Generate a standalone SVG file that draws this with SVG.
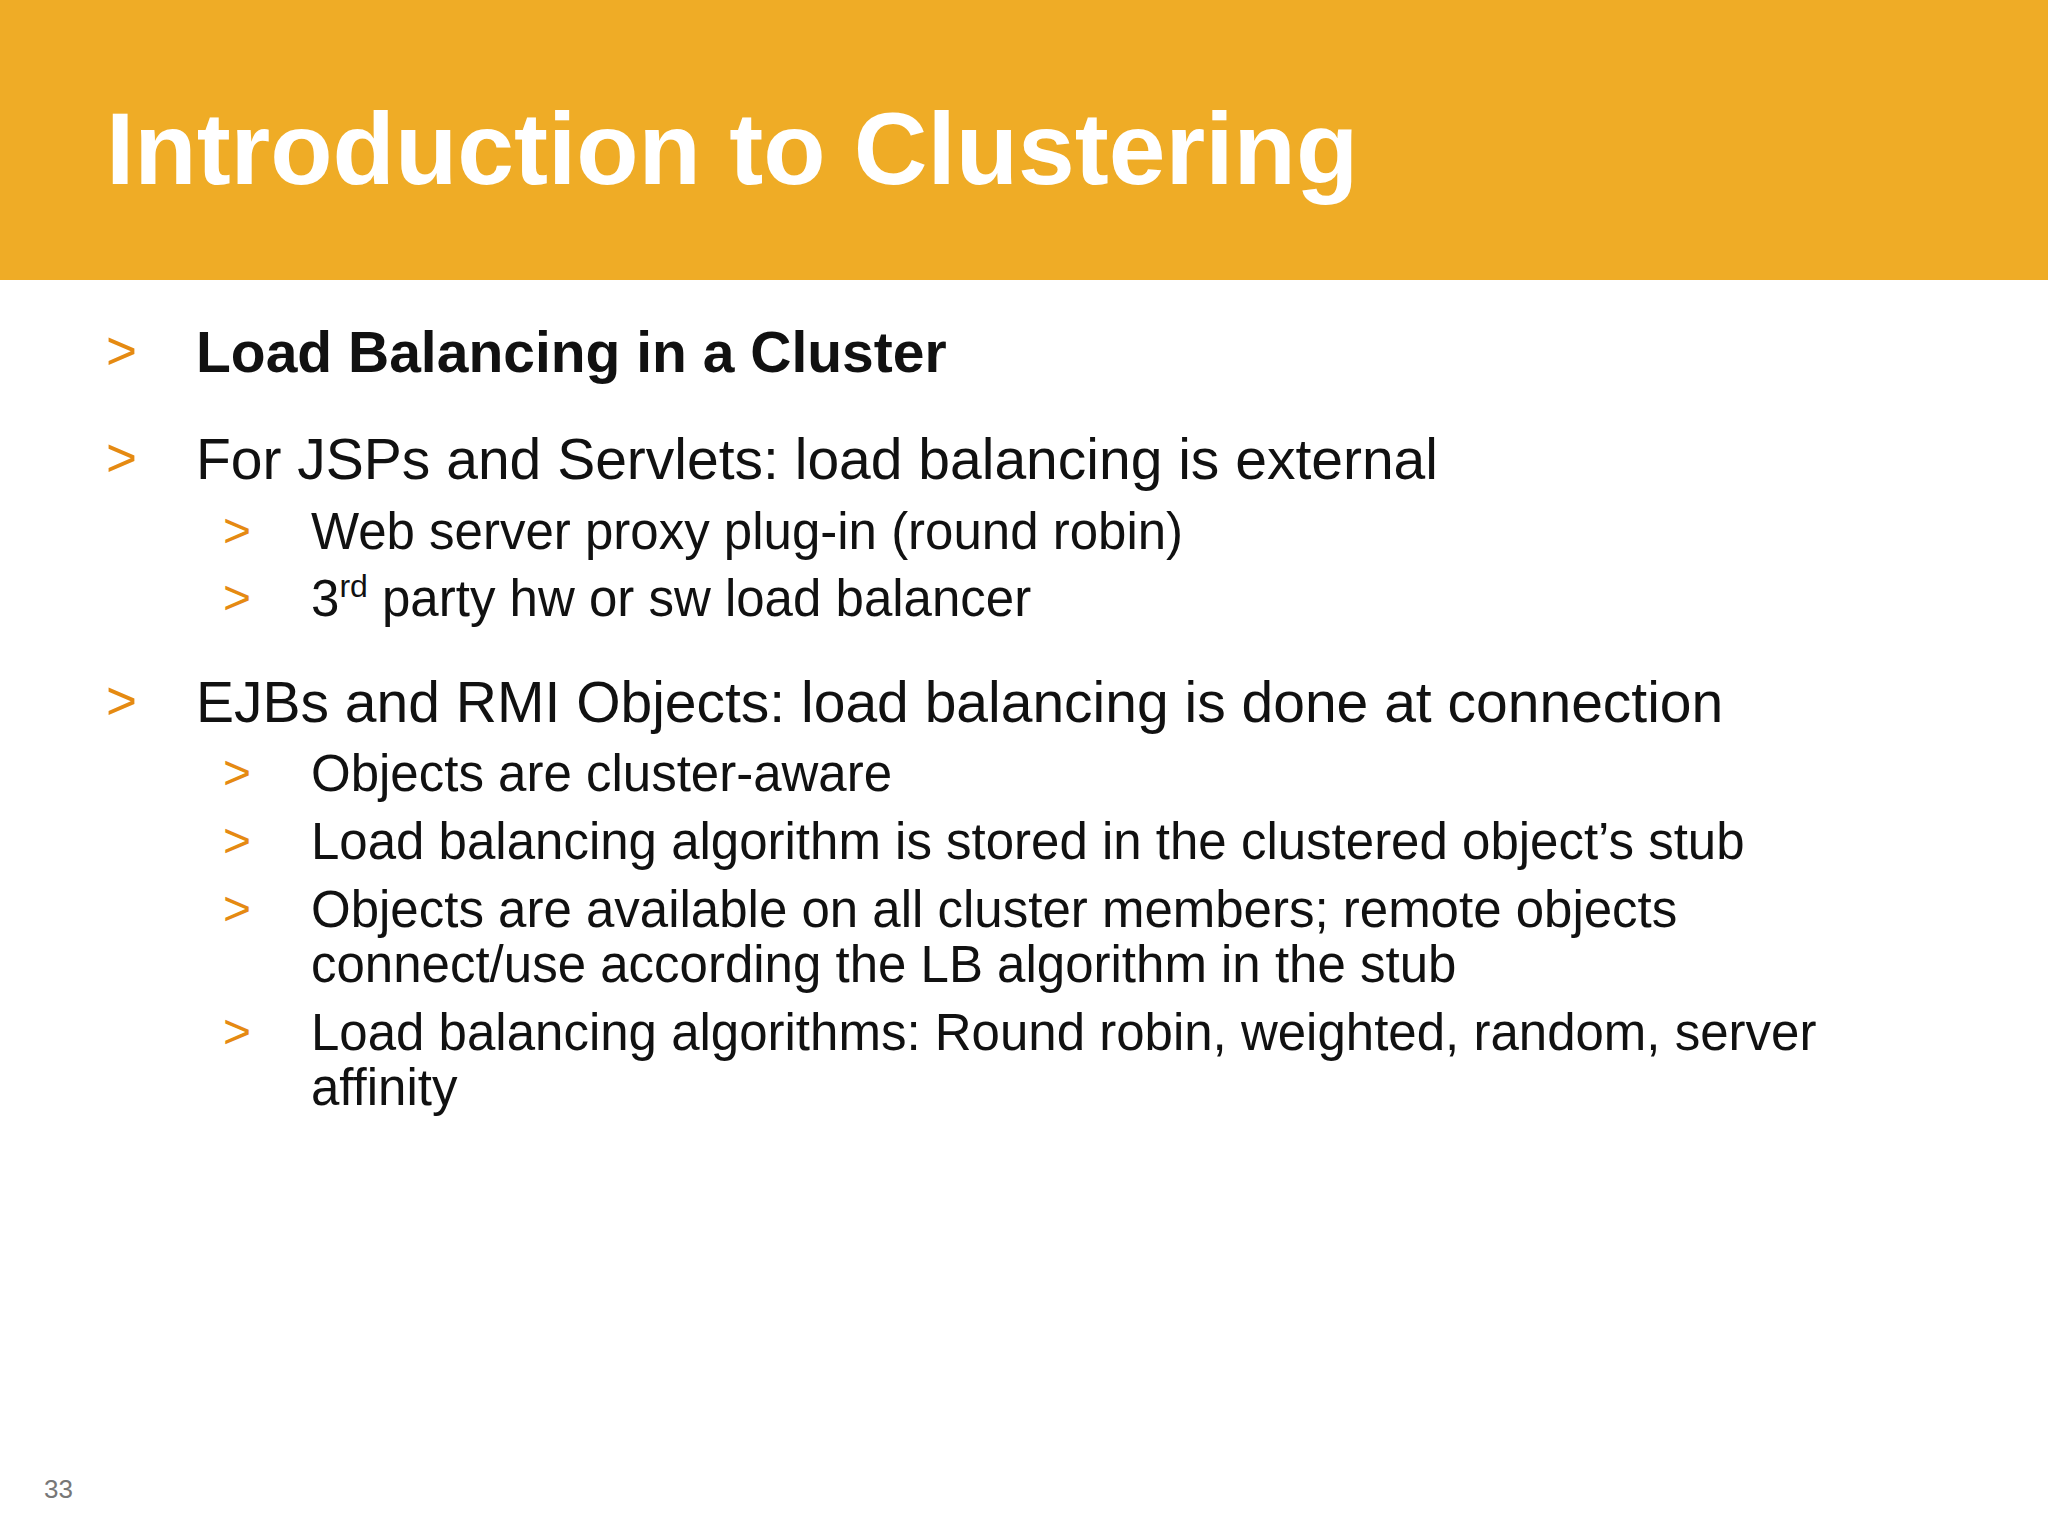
<svg xmlns="http://www.w3.org/2000/svg" width="2048" height="1536" viewBox="0 0 2048 1536">
<style>
text{font-family:"Liberation Sans",Arial,sans-serif;fill:#111}
.a{fill:#E58A12}
.l1{font-size:57px}
.l2{font-size:51px}
</style>
<rect width="2048" height="1536" fill="#fff"/>
<rect width="2048" height="280" fill="#EFAC26"/>
<text x="106" y="184" font-size="102" font-weight="bold" style="fill:#fff">Introduction to Clustering</text>
<g class="l1">
<text class="a" x="106" y="369" font-size="53">&gt;</text>
<text x="196" y="372" font-weight="bold">Load Balancing in a Cluster</text>
<text class="a" x="106" y="476" font-size="53">&gt;</text>
<text x="196" y="479">For JSPs and Servlets: load balancing is external</text>
<text class="a" x="106" y="719" font-size="53">&gt;</text>
<text x="196" y="722">EJBs and RMI Objects: load balancing is done at connection</text>
</g>
<g class="l2">
<text class="a" x="223" y="547" font-size="48">&gt;</text>
<text x="311" y="549">Web server proxy plug-in (round robin)</text>
<text class="a" x="223" y="614" font-size="48">&gt;</text>
<text x="311" y="616">3<tspan font-size="32" dy="-19">rd</tspan><tspan dy="19"> party hw or sw load balancer</tspan></text>
<text class="a" x="223" y="789" font-size="48">&gt;</text>
<text x="311" y="791">Objects are cluster-aware</text>
<text class="a" x="223" y="857" font-size="48">&gt;</text>
<text x="311" y="859">Load balancing algorithm is stored in the clustered object’s stub</text>
<text class="a" x="223" y="925" font-size="48">&gt;</text>
<text x="311" y="927">Objects are available on all cluster members; remote objects</text>
<text x="311" y="982">connect/use according the LB algorithm in the stub</text>
<text class="a" x="223" y="1048" font-size="48">&gt;</text>
<text x="311" y="1050">Load balancing algorithms: Round robin, weighted, random, server</text>
<text x="311" y="1105">affinity</text>
</g>
<text x="44" y="1498" font-size="26" style="fill:#777">33</text>
</svg>
